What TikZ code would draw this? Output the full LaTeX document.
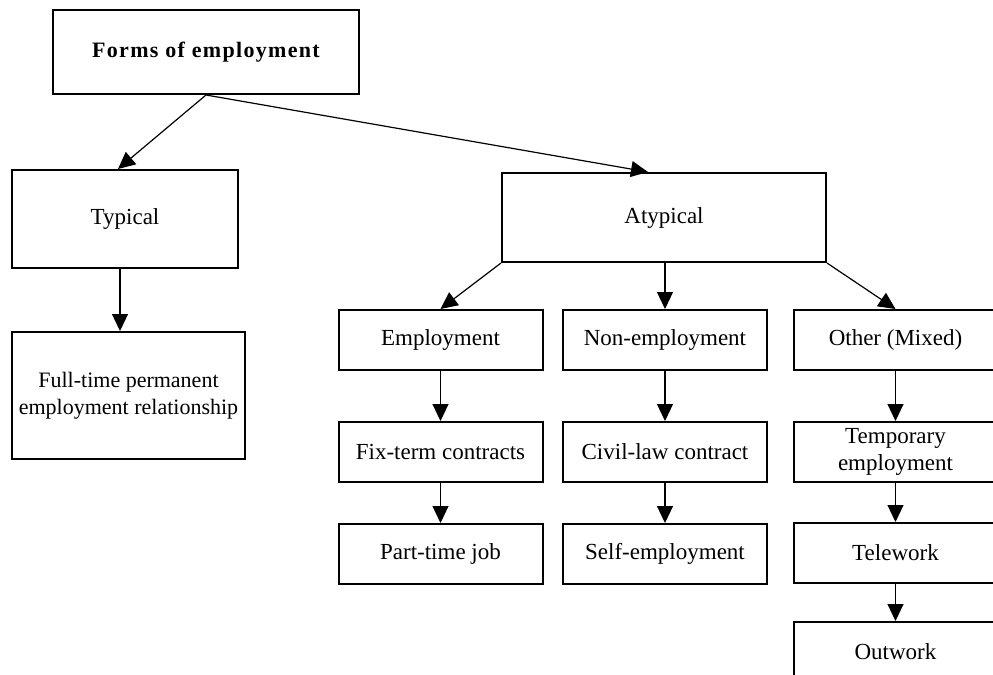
\documentclass[tikz,border=0pt]{standalone}
\usepackage{fontspec}
\setmainfont{Liberation Serif}
\newfontfamily\headfont{Liberation Serif}[LetterSpace=6]
\usetikzlibrary{positioning,arrows.meta}

\begin{document}
\begin{tikzpicture}[x=0.5pt, y=-0.5pt,
    box/.style={draw, rectangle, line width=1pt, minimum width=102pt, minimum height=30pt,
                inner sep=0pt, align=center, font=\fontsize{11.5}{13.5}\selectfont},
    arr/.style={-{Triangle[length=8.5pt,width=8pt]}, line width=0.6pt}]
    \useasboundingbox (0,0) rectangle (993,675);

    \node [box, minimum width=153pt, minimum height=42pt, font=\headfont\bfseries\fontsize{11}{13}\selectfont] (forms) at (206,52) {Forms of employment};
    \node [box, minimum width=113pt, minimum height=49pt] (typ) at (125,219) {Typical};
    \node [box, minimum width=116.5pt, minimum height=63.5pt, font=\fontsize{11}{13.5}\selectfont] (full) at (128.5,395.5) {Full-time permanent\\employment relationship};
    \node [box, minimum width=162pt, minimum height=44.5pt] (atyp) at (664,217.5) {Atypical};

    \node [box] (emp) at (440.5,340) {Employment};
    \node [box] (non) at (665,340) {Non-employment};
    \node [box] (other) at (895.5,340) {Other (Mixed)};

    \node [box, below=25pt of emp] (fix) {Fix-term contracts};
    \node [box, below=20pt of fix] (part) {Part-time job};
    \node [box, below=25pt of non] (civil) {Civil-law contract};
    \node [box, below=20pt of civil] (self) {Self-employment};
    \node [box, below=25pt of other] (temp) {Temporary\\employment};
    \node [box, below=19.5pt of temp] (tele) {Telework};
    \node [box, below=18.5pt of tele] (out) {Outwork};

    \draw [arr] (forms.south) -- ([xshift=-3.5pt]typ.north);
    \draw [arr] (forms.south) -- ([xshift=-8pt]atyp.north);
    \draw [arr] ([xshift=-2.5pt]typ.south) -- ([xshift=-2.5pt]typ.south |- full.north);

    \draw [arr] (atyp.south west) -- (emp.north);
    \draw [arr] (non.north |- atyp.south) -- (non.north);
    \draw [arr] (atyp.south east) -- (other.north);

    \draw [arr] (emp) -- (fix);
    \draw [arr] (fix) -- (part);
    \draw [arr] (non) -- (civil);
    \draw [arr] (civil) -- (self);
    \draw [arr] (other) -- (temp);
    \draw [arr] (temp) -- (tele);
    \draw [arr] (tele) -- (out);
\end{tikzpicture}
\end{document}
